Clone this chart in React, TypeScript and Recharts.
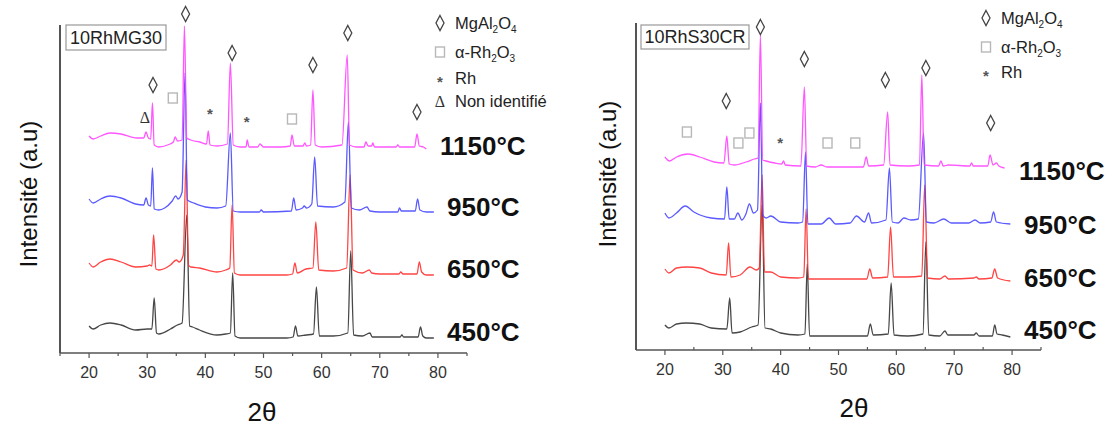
import React from 'react';
import { ComposedChart, Line, XAxis, YAxis, ReferenceDot } from 'recharts';

type Pt = [number, number];
type Mark = [number, number, 'd' | 's' | 'a' | 't'];

// stacked patterns, intensity in a.u. (offset included)
const temps = ['450°C', '650°C', '950°C', '1150°C'];
const colors = ['#333333', '#ff3030', '#4848ff', '#ff45ff'];
const xTicks = [15, 20, 25, 30, 35, 40, 45, 50, 55, 60, 65, 70, 75, 80, 85];

const mg450: Pt[] = [
  [20, 27], [20.7, 24], [22, 28], [23.6, 30], [25.5, 28], [28, 23], [30, 24], [30.8, 24], [31.2, 55], [31.6, 20],
  [32, 19], [34, 24], [35.2, 28], [36, 30], [36.8, 138], [37.3, 27], [37.8, 26], [39, 23], [42, 18], [43.5, 19],
  [44.3, 20], [44.7, 80], [45.1, 17], [46, 15], [54, 15], [55.1, 16], [55.5, 27], [55.9, 17], [57.3, 18], [58.6, 19],
  [59.1, 66], [59.6, 17], [62, 17], [64.5, 20], [65, 102], [65.5, 18], [67, 17], [68.3, 20], [68.7, 16], [70, 16],
  [73.5, 16], [73.8, 18], [74.1, 16], [76.6, 16], [77, 26], [77.4, 17], [78, 15], [79.3, 15],
];
const mg650: Pt[] = [
  [20, 90], [20.7, 86], [22, 91], [23.6, 94], [25.5, 91], [28, 86], [30, 87], [30.4, 88], [30.8, 87], [31.1, 118],
  [31.5, 84], [32, 83], [34, 88], [35, 93], [35.5, 91], [36.2, 98], [36.7, 193], [37.1, 88], [37.5, 86], [39, 85],
  [42, 81], [43.5, 83], [44.2, 85], [44.6, 148], [45, 80], [46, 78], [54, 78], [55, 79], [55.4, 90], [55.8, 80],
  [57.3, 84], [58.5, 85], [59, 131], [59.5, 83], [62, 82], [64.3, 85], [64.9, 178], [65.4, 83], [67, 80], [68.2, 83],
  [68.6, 80], [70, 79], [73.3, 79], [73.6, 81], [74, 79], [76.4, 79], [76.8, 91], [77.2, 81], [78, 78], [79.3, 78],
];
const mg950: Pt[] = [
  [20, 154], [20.7, 150], [22, 154], [23.6, 157], [25.5, 155], [28, 149], [29.4, 148], [29.8, 155], [30.2, 148], [30.6, 147],
  [30.9, 185], [31.2, 144], [32, 143], [33, 145], [34.3, 152], [34.9, 157], [35.3, 154], [36, 161], [36.5, 280], [36.9, 153],
  [38, 150], [40, 146], [42, 145], [43.5, 147], [44.3, 220], [44.8, 142], [46, 141], [49.3, 141], [49.6, 143], [50, 141],
  [54.8, 142], [55.2, 155], [55.6, 143], [56.7, 145], [57, 147], [57.4, 145], [58.3, 149], [58.8, 196], [59.3, 147], [62, 146],
  [64, 151], [64.6, 231], [65.1, 145], [66.5, 143], [67.8, 146], [68.3, 142], [70, 141], [73.1, 141], [73.4, 145], [73.7, 142],
  [76.1, 142], [76.5, 154], [76.9, 143], [78, 141], [79.3, 141],
];
const mg1150: Pt[] = [
  [20, 217], [20.7, 214], [22, 217], [23.6, 220], [25.5, 219], [28.2, 215], [29.4, 215], [29.8, 221], [30.2, 215], [30.6, 214],
  [30.9, 250], [31.2, 208], [32, 206], [33.5, 208], [34.5, 211], [34.8, 216], [35.2, 212], [36, 213], [36.4, 327], [36.8, 215],
  [37.5, 213], [39, 211], [40.2, 209], [40.5, 222], [40.8, 208], [42, 207], [43.8, 209], [44.3, 290], [44.8, 208], [46, 206],
  [47, 206], [47.2, 213], [47.5, 206], [49, 206], [49.4, 209], [50, 206], [53, 206], [54.6, 207], [54.9, 218], [55.3, 207],
  [56.8, 207], [57.1, 210], [57.4, 207], [58.1, 208], [58.5, 263], [58.9, 208], [60, 206], [63.5, 208], [64.4, 298], [64.8, 208],
  [66, 206], [67.3, 206], [67.6, 211], [68, 207], [68.6, 207], [68.8, 210], [69.1, 206], [72.8, 206], [73.1, 208], [73.4, 206],
  [76, 206], [76.4, 219], [76.8, 207], [77.5, 206], [78, 204],
];

const cr450: Pt[] = [
  [20, 25], [20.7, 22], [22, 26], [23.7, 27], [26, 26], [28, 22], [30.7, 21], [31.2, 52], [31.6, 17], [33, 18],
  [35, 23], [36.1, 25], [36.8, 145], [37.3, 22], [38.3, 21], [40, 17], [43, 15], [44.2, 16], [44.6, 86], [45, 14],
  [55, 14], [55.5, 26], [56, 15], [58.6, 16], [59.1, 67], [59.6, 15], [62, 14], [64.6, 16], [65.1, 108], [65.6, 15],
  [67.5, 14], [68.4, 19], [68.9, 15], [73.4, 15], [73.8, 17], [74.3, 14], [76.6, 14], [77, 25], [77.4, 16], [78.3, 15],
  [79.7, 13],
];
const cr650: Pt[] = [
  [20, 81], [20.7, 77], [22, 82], [23.8, 83], [26, 82], [28, 77], [30.6, 75], [31, 107], [31.4, 73], [33, 75],
  [34.7, 83], [35.8, 80], [36.3, 82], [36.8, 175], [37.2, 78], [38.3, 78], [40, 73], [43, 72], [44, 73], [44.4, 141],
  [44.8, 71], [54.9, 71], [55.4, 81], [55.9, 72], [58.5, 73], [59, 123], [59.5, 73], [62, 73], [64.4, 74], [64.9, 165],
  [65.4, 72], [67.5, 71], [68.4, 74], [69, 71], [73.4, 72], [73.8, 73], [74.3, 71], [76.5, 72], [77, 81], [77.5, 72],
  [79.7, 69],
];
const cr950: Pt[] = [
  [20, 137], [20.7, 132], [22, 137], [23.5, 144], [25, 138], [28, 132], [30.3, 131], [30.7, 163], [31.1, 131], [32, 131],
  [32.6, 137], [33.3, 130], [34, 136], [34.6, 146], [35.3, 137], [36, 140], [36.5, 247], [36.9, 135], [37.5, 132], [38.3, 134],
  [40, 128], [43, 127], [43.8, 128], [44.3, 198], [44.7, 126], [47, 126], [48.4, 132], [49.5, 126], [52, 127], [53.1, 134],
  [54.5, 128], [55.2, 137], [55.7, 127], [58.2, 130], [58.8, 182], [59.3, 128], [60.3, 127], [61.3, 132], [62.5, 130], [63.8, 131],
  [64.7, 217], [65.2, 128], [66.5, 127], [68.2, 131], [69.5, 127], [72.5, 127], [73.6, 130], [74.5, 127], [76.3, 128], [76.8, 138],
  [77.3, 128], [79.7, 126],
];
const cr1150: Pt[] = [
  [20, 193], [20.8, 189], [22, 193], [24, 196], [26, 193], [28.5, 188], [30.2, 187], [30.7, 214], [31.1, 186], [32, 185],
  [34, 188], [35.5, 191], [36.1, 192], [36.5, 315], [36.9, 190], [37.5, 189], [39, 187], [40.2, 186], [40.5, 189], [40.8, 185],
  [43.5, 184], [44.1, 263], [44.5, 184], [46, 183], [47, 185], [48, 183], [54.3, 183], [54.8, 193], [55.2, 184], [57.8, 185],
  [58.5, 238], [58.9, 185], [62, 184], [64, 185], [64.4, 275], [64.8, 185], [67.3, 184], [67.7, 189], [68.1, 184], [69, 185],
  [72.7, 184], [73, 187], [73.3, 184], [75.8, 184], [76.2, 195], [76.7, 185], [77.3, 187], [77.7, 184], [78.7, 182],
];

// peak labels: 2θ, height (a.u.), phase
const mgMarks: Mark[] = [
  [36.6, 339, 'd'], [31.0, 268, 'd'], [34.4, 255, 's'], [29.6, 236, 't'], [40.8, 243, 'a'], [44.6, 300, 'd'],
  [47.1, 235, 'a'], [54.9, 234, 's'], [58.5, 288, 'd'], [64.5, 320, 'd'], [76.4, 241, 'd'],
];
const crMarks: Mark[] = [
  [36.5, 323, 'd'], [30.6, 249, 'd'], [23.8, 218, 's'], [32.7, 207, 's'], [34.6, 217, 's'], [39.9, 211, 'a'],
  [44.1, 291, 'd'], [48.1, 207, 's'], [52.9, 207, 's'], [58.1, 270, 'd'], [65.1, 282, 'd'], [76.3, 227, 'd'],
];

const FONT = '"Liberation Sans", Arial, sans-serif';

const Sym = ({ kind, cx, cy }: { kind: string; cx: number; cy: number }) => {
  if (kind === 'd')
    return <polygon points={`${cx},${cy - 7.5} ${cx + 4},${cy} ${cx},${cy + 7.5} ${cx - 4},${cy}`} fill="none" stroke="#444" strokeWidth={1.3} />;
  if (kind === 's')
    return <rect x={cx - 4.5} y={cy - 5} width={9} height={10} fill="none" stroke="#b8b8b8" strokeWidth={1.4} />;
  if (kind === 'a')
    return <text x={cx} y={cy + 8.5} textAnchor="middle" fontSize={15} fontWeight="bold" fill="#555" fontFamily={FONT}>*</text>;
  return <text x={cx} y={cy + 5.5} textAnchor="middle" fontSize={16} fill="#333" fontFamily='"Liberation Serif", serif'>Δ</text>;
};

const makeTick = (minorUp: boolean) => (props: any) => {
  const { x, y, payload } = props;
  const v = payload.value;
  const major = v % 10 === 0;
  const y2 = major ? y + 5 : minorUp ? y - 3 : y + 3;
  return (
    <g>
      <line x1={x} x2={x} y1={y} y2={y2} stroke="#555" strokeWidth={1.2} />
      {major && v >= 20 && v <= 80 && (
        <text x={x} y={y + 25} textAnchor="middle" fontSize={16} fill="#333" fontFamily={FONT}>{v}</text>
      )}
    </g>
  );
};

interface PanelProps {
  left: number;
  yAxisW: number;
  rightM: number;
  top: number;
  bottomM: number;
  yMax: number;
  series: Pt[][];
  marks: Mark[];
  minorUp: boolean;
}

const Panel = ({ left, yAxisW, rightM, top, bottomM, yMax, series, marks, minorUp }: PanelProps) => (
  <div style={{ position: 'absolute', left, top: 0 }}>
    <ComposedChart width={556} height={428} margin={{ top, right: rightM, bottom: bottomM, left: 0 }}>
      <XAxis
        dataKey="x"
        type="number"
        domain={[15, 85]}
        ticks={xTicks}
        interval={0}
        allowDataOverflow
        tickSize={0}
        tickMargin={0}
        tickLine={false}
        axisLine={{ stroke: '#555', strokeWidth: 1.5 }}
        tick={makeTick(minorUp)}
        height={30}
      />
      <YAxis
        type="number"
        domain={[0, yMax]}
        allowDataOverflow
        tick={false}
        tickLine={false}
        width={yAxisW}
        axisLine={{ stroke: '#555', strokeWidth: 2 }}
      />
      {series.map((s, i) => (
        <Line
          key={temps[i]}
          data={s.map(([x, y]) => ({ x, y }))}
          dataKey="y"
          type="monotone"
          stroke={colors[i]}
          strokeWidth={1.3}
          strokeOpacity={0.9}
          dot={false}
          isAnimationActive={false}
        />
      ))}
      {marks.map(([x, y, k], i) => (
        <ReferenceDot key={i} x={x} y={y} ifOverflow="visible" shape={(p: any) => <Sym kind={k} cx={p.cx} cy={p.cy} />} />
      ))}
    </ComposedChart>
  </div>
);

const Sub = ({ children }: { children: string }) => (
  <tspan fontSize={10} dy={4}>{children}</tspan>
);

const Legend = ({ x, rows }: { x: number; rows: number[] }) => {
  const items = [
    { k: 'd', label: <>MgAl<Sub>2</Sub><tspan dy={-4}>O</tspan><Sub>4</Sub></> },
    { k: 's', label: <>α-Rh<Sub>2</Sub><tspan dy={-4}>O</tspan><Sub>3</Sub></> },
    { k: 'a', label: <>Rh</> },
    { k: 't', label: <>Non identifié</> },
  ];
  return (
    <g>
      {rows.map((ry, i) => (
        <g key={i}>
          <Sym kind={items[i].k} cx={x} cy={ry} />
          <text x={x + 15} y={ry + 6} fontSize={16.5} fill="#222" fontFamily={FONT}>{items[i].label}</text>
        </g>
      ))}
    </g>
  );
};

const tempY = { left: [332, 269, 207, 146], right: [330, 278, 225, 171] };

export default function App() {
  return (
    <div style={{ position: 'absolute', left: 0, top: 0, width: 1112, height: 428, background: '#fff', overflow: 'hidden' }}>
      <Panel left={0} yAxisW={60} rightM={89} top={25} bottomM={45} yMax={328} series={[mg450, mg650, mg950, mg1150]} marks={mgMarks} minorUp={false} />
      <Panel left={556} yAxisW={80} rightM={71} top={23} bottomM={48} yMax={327} series={[cr450, cr650, cr950, cr1150]} marks={crMarks} minorUp />
      <svg width={1112} height={428} style={{ position: 'absolute', left: 0, top: 0, pointerEvents: 'none' }}>
        <rect x={66} y={25} width={100} height={25} fill="#fff" stroke="#999" strokeWidth={1.2} />
        <text x={116} y={44} textAnchor="middle" fontSize={18} fill="#222" fontFamily={FONT}>10RhMG30</text>
        <rect x={641} y={25} width={108} height={24} fill="#fff" stroke="#999" strokeWidth={1.2} />
        <text x={695} y={43} textAnchor="middle" fontSize={18} fill="#222" fontFamily={FONT}>10RhS30CR</text>

        <Legend x={440} rows={[23, 52, 78, 101]} />
        <Legend x={986} rows={[18, 47, 72]} />

        {temps.map((t, i) => (
          <text key={'l' + t} x={i === 3 ? 440 : 447} y={tempY.left[i] + 9} fontSize={26} fontWeight="bold" fill="#111" fontFamily={FONT}>{t}</text>
        ))}
        {temps.map((t, i) => (
          <text key={'r' + t} x={i === 3 ? 1019 : 1024} y={tempY.right[i] + 9} fontSize={26} fontWeight="bold" fill="#111" fontFamily={FONT}>{t}</text>
        ))}

        <text transform="translate(37,194) rotate(-90)" textAnchor="middle" fontSize={24} fill="#111" fontFamily={FONT}>Intensité (a.u)</text>
        <text transform="translate(616,174) rotate(-90)" textAnchor="middle" fontSize={24} fill="#111" fontFamily={FONT}>Intensité (a.u)</text>
        <text x={262} y={421} textAnchor="middle" fontSize={26} fill="#111" fontFamily={FONT}>2θ</text>
        <text x={854} y={417} textAnchor="middle" fontSize={26} fill="#111" fontFamily={FONT}>2θ</text>
      </svg>
    </div>
  );
}
